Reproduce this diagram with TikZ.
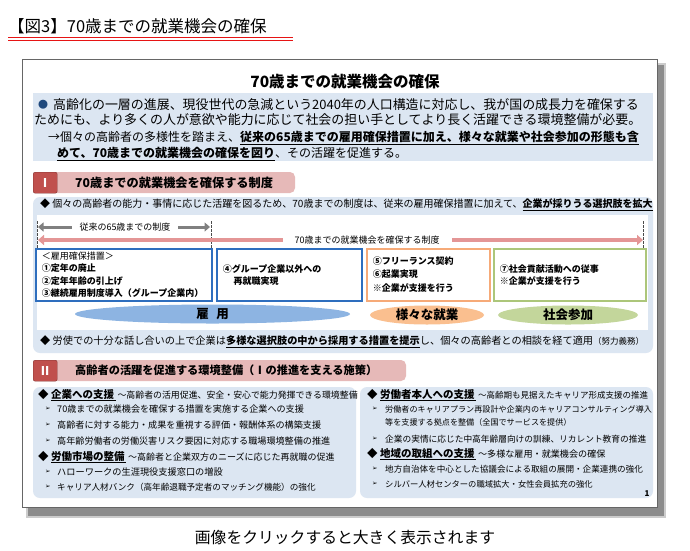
\documentclass[tikz,border=0pt]{standalone}
\usepackage{fontspec}
\setmainfont{Noto Sans CJK JP}
\newfontfamily\symfont{DejaVu Sans}
\usepackage{tikz}
\usetikzlibrary{positioning,calc,arrows.meta,shapes.geometric}
\usepackage{xcolor}
\definecolor{panelblue}{RGB}{220,230,242}
\definecolor{dotblue}{RGB}{31,73,125}
\definecolor{titlered}{RGB}{230,20,20}
\definecolor{secred}{RGB}{192,80,77}
\definecolor{secpink}{RGB}{230,185,184}
\definecolor{arrowpink}{RGB}{228,150,150}
\definecolor{arrowgray}{RGB}{128,128,128}
\definecolor{boxblue}{RGB}{46,110,190}
\definecolor{boxorange}{RGB}{246,170,120}
\definecolor{boxgreen}{RGB}{172,198,122}
\definecolor{ellblue}{RGB}{141,180,226}
\definecolor{ellorange}{RGB}{250,191,143}
\definecolor{ellgreen}{RGB}{195,214,155}
\newcommand{\fsz}[1]{\fontsize{#1}{#1}\selectfont}

\begin{document}
\begin{tikzpicture}[x=1pt,y=-1pt,
  ln/.style={anchor=west,inner sep=0pt},
  secmark/.style={draw=secred!70!black,fill=secred,rounded corners=2pt,
    minimum width=24pt,minimum height=21pt,inner sep=0pt,text=white,
    font=\fsz{12}\bfseries,anchor=north west},
  optbox/.style={draw=#1,line width=1.6pt,fill=white,minimum height=52pt,
    inner xsep=6pt,inner ysep=0pt,align=left,anchor=north west,
    font=\fontsize{9}{12.4}\selectfont\bfseries},
  field/.style={ellipse,fill=#1,minimum height=19pt,inner sep=0pt,
    font=\fsz{12.5}\bfseries},
  grayarrow/.style={line width=3pt,arrowgray,
    {Triangle[length=5.5pt,width=9pt]}-{Triangle[length=5.5pt,width=9pt]}},
  pinkarrow/.style={line width=4pt,arrowpink,
    {Triangle[length=6pt,width=10pt]}-{Triangle[length=6pt,width=10pt]}}]
  \useasboundingbox (0,0) rectangle (690,550);
  \fill[white] (0,0) rectangle (690,550);

  % heading above the slide
  \node[ln,font=\fsz{16.5}] (title) at (8,26) {【図3】70歳までの就業機会の確保};
  \draw[titlered,line width=1pt] (8,37.7) -- (293,37.7);
  \draw[titlered,line width=0.8pt] (8,40.5) -- (293,40.5);

  % slide frame with shadow
  \fill[black!20] (26,63) rectangle (666,518);
  \fill[black!45] (28,65) rectangle (664,516);
  \draw[black!60,fill=white] (22,59) rectangle (657,507);

  \node[font=\fsz{15.5}\bfseries] (head) at (345,82) {70歳までの就業機会の確保};
  \fill[panelblue] (33,93) rectangle (653,161);
  \node[ln,font=\fsz{10},text=dotblue] (dot) at (38,105) {●};
  \node[ln,font=\fsz{12.95}] (p1) at (53,105) {高齢化の一層の進展、現役世代の急減という2040年の人口構造に対応し、我が国の成長力を確保する};
  \node[ln,font=\fsz{12.95}] (p2) at (34,120) {ためにも、より多くの人が意欲や能力に応じて社会の担い手としてより長く活躍できる環境整備が必要。};
  \node[ln,font=\fsz{12}] (p3) at (48,138) {→個々の高齢者の多様性を踏まえ、\textbf{\underline{従来の65歳までの雇用確保措置に加え、様々な就業や社会参加の形態も含}}};
  \node[ln,font=\fsz{12}] (p4) at (57,154) {\textbf{\underline{めて、70歳までの就業機会の確保を図り}}、その活躍を促進する。};

  % section I
  \fill[secpink,rounded corners=5pt] (45,172) rectangle (295,193);
  \node[secmark] (s1) at (33,172) {Ⅰ};
  \node[ln,font=\fsz{12.2}\bfseries] (s1t) at (75,182.5) {70歳までの就業機会を確保する制度};
  \fill[panelblue,rounded corners=7pt] (33,197) rectangle (653,353);
  \node[ln,font=\fsz{10}] (q1) at (40,205) {◆ 個々の高齢者の能力・事情に応じた活躍を図るため、70歳までの制度は、従来の雇用確保措置に加えて、\textbf{\underline{企業が採りうる選択肢を拡大}}};
  \fill[white] (37,215) rectangle (648,330);

  \foreach \x in {37,211,643}
    \draw[black!70,line width=0.8pt,dash pattern=on 2.5pt off 1.5pt] (\x,221) -- (\x,248);
  \coordinate (g1) at (38,227);
  \coordinate (g2) at (210,227);
  \draw[grayarrow] (g1) -- (g2);
  \node[fill=white,font=\fsz{9},inner xsep=8pt,inner ysep=1pt] (gtxt) at (125,227) {従来の65歳までの制度};
  \coordinate (r1) at (38,240);
  \coordinate (r2) at (643,240);
  \draw[pinkarrow] (r1) -- (r2);
  \node[fill=white,font=\fsz{9},inner xsep=12pt,inner ysep=1pt] (rtxt) at (367,240) {70歳までの就業機会を確保する制度};

  \node[optbox=boxblue,text width=164pt] (b1) at (35,248) {{\mdseries ＜雇用確保措置＞}\\①定年の廃止\\②定年年齢の引上げ\\③継続雇用制度導入（グループ企業内）};
  \node[optbox=boxblue,text width=133pt] (b2) at (216,248) {④グループ企業以外への\\\hspace*{1.2em}再就職実現};
  \node[optbox=boxorange,text width=111pt] (b3) at (366,248) {⑤フリーランス契約\\⑥起業実現\\[2pt]※企業が支援を行う};
  \node[optbox=boxgreen,text width=140pt] (b4) at (493,248) {⑦社会貢献活動への従事\\※企業が支援を行う};

  \node[field=ellblue,minimum width=275pt] (e1) at (212.5,314) {雇\hspace{0.6em}用};
  \node[field=ellorange,minimum width=114pt] (e2) at (427,315) {様々な就業};
  \node[field=ellgreen,minimum width=140pt] (e3) at (568,315) {社会参加};

  \node[ln,font=\fsz{10.2}] (q2) at (40,342) {◆ 労使での十分な話し合いの上で企業は\textbf{\underline{多様な選択肢の中から採用する措置を提示}}し、個々の高齢者との相談を経て適用{\fsz{8.5}（努力義務）}};

  % section II
  \fill[secpink,rounded corners=5pt] (45,360) rectangle (406,381);
  \node[secmark] (s2) at (33,360) {Ⅱ};
  \node[ln,font=\fsz{11.2}\bfseries] (s2t) at (75,370.5) {高齢者の活躍を促進する環境整備（Ⅰの推進を支える施策）};
  \fill[panelblue,rounded corners=7pt] (33,387) rectangle (356,498);
  \fill[panelblue,rounded corners=7pt] (360,387) rectangle (653,498);

  \node[ln,font=\fsz{10.5}] (h1) at (38,395) {◆ \textbf{\underline{企業への支援\,}}\,{\fsz{8.9}～高齢者の活用促進、安全・安心で能力発揮できる環境整備}};
  \node[ln,font=\fsz{10.5}] (h2) at (38,457) {◆ \textbf{\underline{労働市場の整備\,}}\,{\fsz{9}～高齢者と企業双方のニーズに応じた再就職の促進}};
  \foreach \y/\s/\t [count=\i] in {409/9.1/70歳までの就業機会を確保する措置を実施する企業への支援,
      425/9.1/高齢者に対する能力・成果を重視する評価・報酬体系の構築支援,
      441/9.1/高年齢労働者の労働災害リスク要因に対応する職場環境整備の推進,
      472/9.2/ハローワークの生涯現役支援窓口の増設,
      487/8.6/キャリア人材バンク（高年齢退職予定者のマッチング機能）の強化}{
    \node[ln,font=\symfont\fsz{6.5}] (lm\i) at (45,\y) {➢};
    \node[ln,font=\fsz{\s}] (lt\i) at (57,\y) {\t};
  }

  \node[ln,font=\fsz{10.5}] (h3) at (367,395) {◆ \textbf{\underline{労働者本人への支援\,}}\,{\fsz{8.5}～高齢期も見据えたキャリア形成支援の推進}};
  \node[ln,font=\fsz{10.5}] (h4) at (367,454) {◆ \textbf{\underline{地域の取組への支援\,}}\,{\fsz{9.1}～多様な雇用・就業機会の確保}};
  \foreach \y/\s/\t [count=\i] in {409/8.1/労働者のキャリアプラン再設計や企業内のキャリアコンサルティング導入,
      439/8.7/企業の実情に応じた中高年齢層向けの訓練、リカレント教育の推進,
      469/8.6/地方自治体を中心とした協議会による取組の展開・企業連携の強化,
      484/8.3/シルバー人材センターの職域拡大・女性会員拡充の強化}{
    \node[ln,font=\symfont\fsz{6.5}] (rm\i) at (372,\y) {➢};
    \node[ln,font=\fsz{\s}] (rt\i) at (385,\y) {\t};
  }
  \node[ln,font=\fsz{8.1}] (rt5) at (385,422) {等を支援する拠点を整備（全国でサービスを提供）};
  \node[font=\fsz{8}\bfseries] (pg) at (647,494) {1};

  \node[font=\fsz{15.8}] (cap) at (345,537) {画像をクリックすると大きく表示されます};
\end{tikzpicture}
\end{document}
